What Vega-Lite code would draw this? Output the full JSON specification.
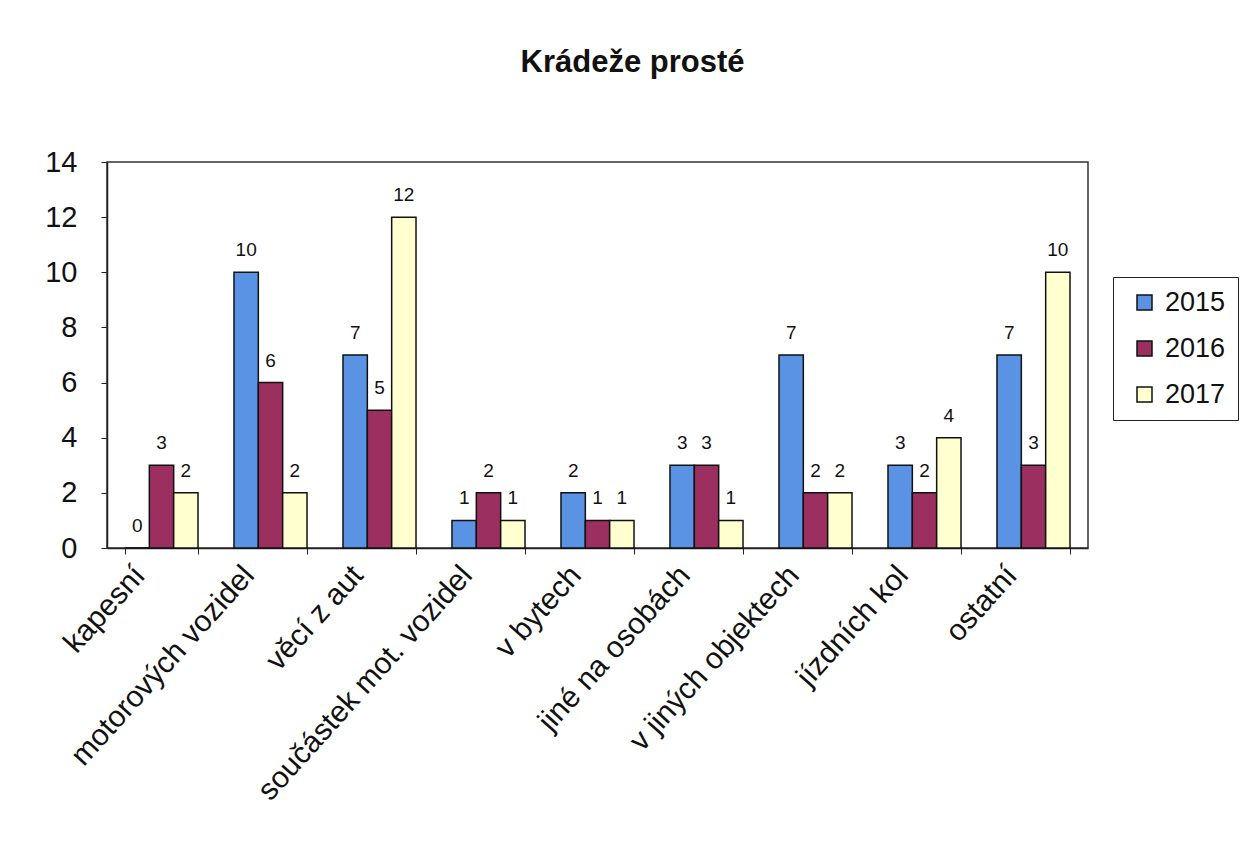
{
  "$schema": "https://vega.github.io/schema/vega-lite/v6.json",
  "width": 981,
  "height": 386,
  "autosize": "none",
  "padding": {"left": 107, "top": 162, "right": 156, "bottom": 303},
  "background": "white",
  "config": {"font": "Liberation Sans", "view": {"stroke": "#333", "strokeWidth": 1.5}},
  "title": {"text": "Krádeže prosté", "fontSize": 31, "font": "Liberation Sans", "fontWeight": "bold", "offset": 69, "dx": 35, "color": "#111"},
  "data": {"values": [
    {"kat": "kapesní", "rok": "2015", "pocet": 0},
    {"kat": "kapesní", "rok": "2016", "pocet": 3},
    {"kat": "kapesní", "rok": "2017", "pocet": 2},
    {"kat": "motorových vozidel", "rok": "2015", "pocet": 10},
    {"kat": "motorových vozidel", "rok": "2016", "pocet": 6},
    {"kat": "motorových vozidel", "rok": "2017", "pocet": 2},
    {"kat": "věcí z aut", "rok": "2015", "pocet": 7},
    {"kat": "věcí z aut", "rok": "2016", "pocet": 5},
    {"kat": "věcí z aut", "rok": "2017", "pocet": 12},
    {"kat": "součástek mot. vozidel", "rok": "2015", "pocet": 1},
    {"kat": "součástek mot. vozidel", "rok": "2016", "pocet": 2},
    {"kat": "součástek mot. vozidel", "rok": "2017", "pocet": 1},
    {"kat": "v bytech", "rok": "2015", "pocet": 2},
    {"kat": "v bytech", "rok": "2016", "pocet": 1},
    {"kat": "v bytech", "rok": "2017", "pocet": 1},
    {"kat": "jiné na osobách", "rok": "2015", "pocet": 3},
    {"kat": "jiné na osobách", "rok": "2016", "pocet": 3},
    {"kat": "jiné na osobách", "rok": "2017", "pocet": 1},
    {"kat": "v jiných objektech", "rok": "2015", "pocet": 7},
    {"kat": "v jiných objektech", "rok": "2016", "pocet": 2},
    {"kat": "v jiných objektech", "rok": "2017", "pocet": 2},
    {"kat": "jízdních kol", "rok": "2015", "pocet": 3},
    {"kat": "jízdních kol", "rok": "2016", "pocet": 2},
    {"kat": "jízdních kol", "rok": "2017", "pocet": 4},
    {"kat": "ostatní", "rok": "2015", "pocet": 7},
    {"kat": "ostatní", "rok": "2016", "pocet": 3},
    {"kat": "ostatní", "rok": "2017", "pocet": 10}
  ]},
  "encoding": {
    "x": {
      "field": "kat", "type": "nominal", "sort": null,
      "scale": {"paddingInner": 0.33, "paddingOuter": 0.165},
      "axis": {"title": null, "labelAngle": -48, "labelFontSize": 30, "labelColor": "#111", "tickBand": "extent", "tickSize": 6, "tickColor": "#222", "domainColor": "#222", "domainWidth": 1.5, "labelPadding": 16, "labelOffset": -22, "labelLimit": 400}
    },
    "xOffset": {"field": "rok", "type": "nominal", "scale": {"paddingInner": 0, "paddingOuter": 0}},
    "y": {
      "field": "pocet", "type": "quantitative",
      "scale": {"domain": [0, 14]},
      "axis": {"title": null, "values": [0, 2, 4, 6, 8, 10, 12, 14], "grid": false, "labelFontSize": 29, "labelColor": "#111", "tickSize": 6, "tickColor": "#222", "domainColor": "#222", "domainWidth": 1.5, "labelPadding": 24}
    }
  },
  "layer": [
    {
      "mark": {"type": "bar", "stroke": "#111", "strokeWidth": 1.5},
      "encoding": {
        "color": {
          "field": "rok", "type": "nominal",
          "scale": {"domain": ["2015", "2016", "2017"], "range": ["#5a93e3", "#9b2f5f", "#ffffcf"]},
          "legend": {"title": null, "orient": "none", "legendX": 1006, "legendY": 115, "strokeColor": "#222", "padding": 12, "symbolType": "square", "symbolSize": 225, "symbolOffset": 6, "symbolStrokeColor": "#111", "symbolStrokeWidth": 1.5, "labelFontSize": 27, "labelColor": "#111", "rowPadding": 18, "labelOffset": 7}
        }
      }
    },
    {
      "mark": {"type": "text", "baseline": "middle", "dy": -22, "fontSize": 19, "color": "#111"},
      "encoding": {"text": {"field": "pocet", "type": "quantitative"}}
    }
  ]
}
